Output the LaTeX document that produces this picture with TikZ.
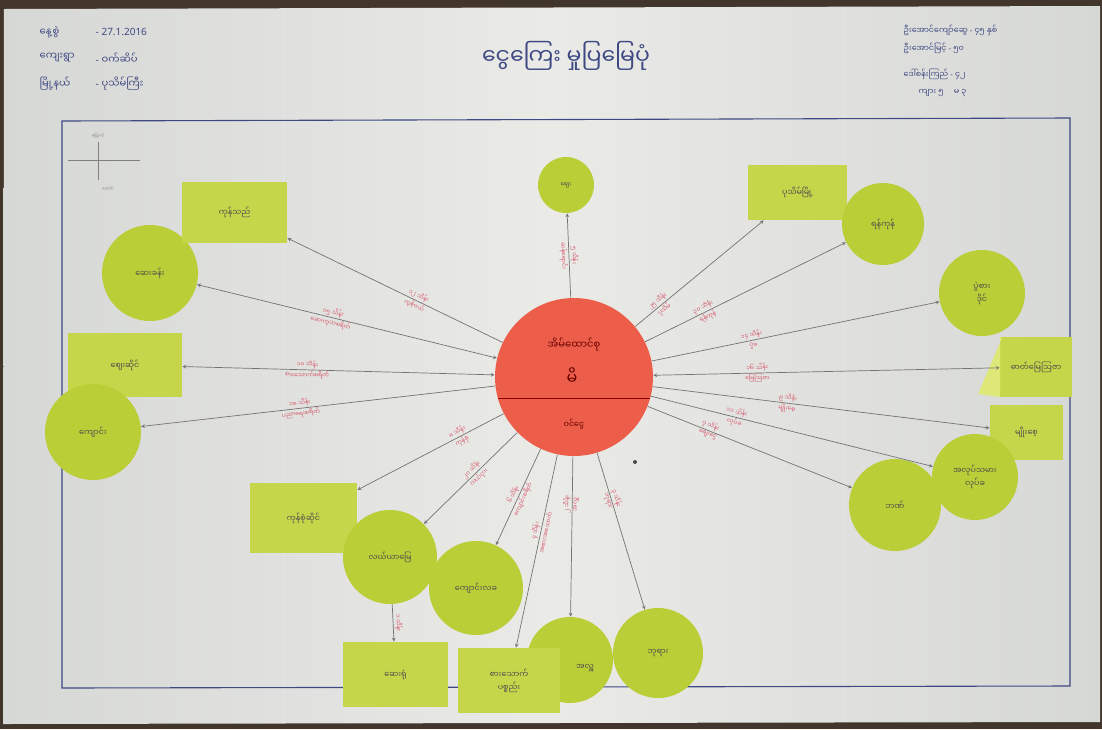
\documentclass[tikz,border=0pt]{standalone}
\usepackage{fontspec}
\usepackage{tikz}
\usetikzlibrary{shapes}
\usetikzlibrary{arrows}
\setmainfont{Noto Sans}
\newfontfamily\mmfont[Script=Myanmar]{Noto Sans Myanmar UI}
\newcommand{\mmdash}{{\rmfamily -}}
\definecolor{desk}{RGB}{66,54,44}
\definecolor{paperdark}{RGB}{214,216,213}
\definecolor{paperlight}{RGB}{234,234,231}
\definecolor{notegreen}{RGB}{198,214,74}
\definecolor{flapgreen}{RGB}{222,232,120}
\definecolor{discgreen}{RGB}{186,206,56}
\definecolor{hubred}{RGB}{236,94,74}
\definecolor{bluepen}{RGB}{62,72,130}
\definecolor{redpen}{RGB}{214,84,104}
\tikzstyle{slip}=[rectangle,fill=notegreen,inner sep=0mm,align=center,text=black!70,font=\mmfont\fontsize{8}{13}\selectfont]
\tikzstyle{disk}=[circle,fill=discgreen,inner sep=0mm,align=center,text=black!70,font=\mmfont\fontsize{8}{13}\selectfont]
\tikzstyle{flow}=[->,>=stealth,draw=black!55,line width=0.7]
\tikzstyle{both}=[<->,>=stealth,draw=black!55,line width=0.7]
\tikzstyle{amount}=[sloped,inner sep=1pt,text=redpen,font=\mmfont\fontsize{6}{8}\selectfont]
\tikzstyle{header}=[anchor=west,text=bluepen,font=\mmfont\fontsize{10}{12}\selectfont]
\tikzset{every picture/.style={
    line width=0.8
  }
}

\begin{document}
\begin{tikzpicture}[x=1pt,y=-1pt]
      \useasboundingbox (0,0) rectangle (1102,729);
      % photo and paper
      \fill[desk] (0,0) rectangle (1102,729);
      \shade[left color=paperdark,right color=paperdark,middle color=paperlight]
        (4,9) -- (1100,6) -- (1100,722) -- (3,724) -- cycle;
      \draw[black!10,line width=0.6] (283,9) -- (283,722);
      \draw[black!10,line width=0.6] (843,7) -- (843,722);
      \draw[bluepen,line width=1.1] (62,121) -- (1070,118) -- (1070,686) -- (62,688) -- cycle;
      % headings
      \node[header] at (36,32) (dlab) {နေ့စွဲ};
      \node[header,font=\fontsize{10}{12}\selectfont] at (92,32) (dval) {- 27.1.2016};
      \node[header] at (36,58) (vlab) {ကျေးရွာ};
      \node[header] at (92,58) (vval) {\mmdash{} ဝက်ဆိပ်};
      \node[header] at (36,84) (tlab) {မြို့နယ်};
      \node[header] at (92,84) (tval) {\mmdash{} ပုသိမ်ကြီး};
      \node[text=bluepen,font=\mmfont\fontsize{22}{26}\selectfont] at (566,56) (title) {ငွေကြေး မှုပြမြေပုံ};
      \node[header,font=\mmfont\fontsize{8}{9}\selectfont] at (900,30) (p1) {ဦးအောင်ကျော်ဆွေ \mmdash{} ၄၅ နှစ်};
      \node[header,font=\mmfont\fontsize{8}{9}\selectfont] at (900,48) (p2) {ဦးအောင်မြင့် \mmdash{} ၅၀};
      \node[header,font=\mmfont\fontsize{8}{9}\selectfont] at (900,74) (p3) {ဒေါ်စန်းကြည် \mmdash{} ၄၂};
      \node[header,font=\mmfont\fontsize{8}{9}\selectfont] at (915,93) (p4) {ကျား ၅ \quad မ ၃};
      % compass
      \draw[black!50,line width=0.5] (98,142) -- (98,180);
      \draw[black!50,line width=0.5] (68,160) -- (140,160);
      \node[text=black!50,font=\mmfont\fontsize{4}{5}\selectfont] at (98,136) (north) {မြောက်};
      \node[text=black!50,font=\mmfont\fontsize{4}{5}\selectfont] at (108,188) (south) {တောင်};
      % household
      \node[circle,fill=hubred,minimum size=158pt,inner sep=0mm] at (574,377) (hub) {};
      \draw[red!55!black,line width=0.7] ([shift={(-76,21)}]hub.center) -- ([shift={(76,21)}]hub.center);
      \node[text=red!40!black,font=\mmfont\fontsize{10}{12}\selectfont] at (574,345) (hubtop) {အိမ်ထောင်စု};
      \node[text=red!40!black,font=\mmfont\fontsize{16}{18}\selectfont] at (572,376) (hubmid) {မိ};
      \node[text=red!40!black,font=\mmfont\fontsize{8}{10}\selectfont] at (574,424) (hublow) {ဝင်ငွေ};
      % places, left
      \node[disk,minimum size=96pt] at (150,273) (c1) {ဆေးခန်း};
      \node[slip,minimum width=105pt,minimum height=61pt] at (234.5,212.5) (r1) {ကုန်သည်};
      \node[slip,minimum width=114pt,minimum height=64pt] at (125,365) (r2) {ဈေးဆိုင်};
      \node[disk,minimum size=96pt] at (93,432) (c2) {ကျောင်း};
      \node[slip,minimum width=107pt,minimum height=70pt] at (303.5,518) (r3) {ကုန်စုံဆိုင်};
      \node[disk,minimum size=94pt] at (390,557) (c3) {လယ်ယာမြေ};
      \node[disk,minimum size=94pt] at (476,588) (c4) {ကျောင်းလခ};
      \node[slip,minimum width=105pt,minimum height=65pt] at (395.5,674.5) (r4) {ဆေးရုံ};
      \node[disk,minimum size=86pt] at (570,660) (c5) {};
      \node[slip,minimum width=102pt,minimum height=65pt] at (509,680.5) (r5) {စားသောက်\\ပစ္စည်း};
      \node[text=black!70,font=\mmfont\fontsize{8}{10}\selectfont] at (585,668) (c5txt) {အလှူ};
      \node[disk,minimum size=90pt] at (658,653) (c6) {ဘုရား};
      % places, top and right
      \node[disk,minimum size=56pt,font=\mmfont\fontsize{6}{7}\selectfont] at (566,185) (t1) {ဈေး};
      \node[slip,minimum width=99pt,minimum height=55pt] at (797.5,192.5) (r6) {ပုသိမ်မြို့};
      \node[disk,minimum size=82pt] at (883,224) (c7) {ရန်ကုန်};
      \node[disk,minimum size=86pt] at (982,293) (c8) {ပွဲစား\\ဒိုင်};
      \node[slip,minimum width=72pt,minimum height=60pt] at (1036,367) (r7) {ဓာတ်မြေဩဇာ};
      \fill[flapgreen] (1002,338) -- (978,394) -- (1000,397) -- (1000,337) -- cycle;
      \node[slip,minimum width=73pt,minimum height=55pt] at (1026.5,432.5) (r8) {မျိုးစေ့};
      \node[disk,minimum size=86pt] at (975,477) (c9) {အလုပ်သမား\\လုပ်ခ};
      \node[disk,minimum size=92pt] at (895,505) (c10) {ဘဏ်};
      % flows
      \draw[flow] (hub) -- (t1) node[amount,pos=0.5,above] {၅ သိန်း} node[amount,pos=0.5,below] {ဆန်ရောင်း};
      \draw[flow] (hub) -- (r1) node[amount,pos=0.4,above] {၁၂ သိန်း} node[amount,pos=0.4,below] {ကုန်ဝယ်};
      \draw[both] (hub) -- (c1) node[amount,pos=0.55,above] {၁၅ သိန်း} node[amount,pos=0.55,below] {ဆေးကုသစရိတ်};
      \draw[both] (hub) -- (r2) node[amount,pos=0.6,above] {၁၀ သိန်း} node[amount,pos=0.6,below] {စားသောက်စရိတ်};
      \draw[flow] (hub) -- (c2) node[amount,pos=0.55,above] {၁၈ သိန်း} node[amount,pos=0.55,below] {ပညာရေးစရိတ်};
      \draw[flow] (hub) -- (r3) node[amount,pos=0.3,above] {၈ သိန်း} node[amount,pos=0.3,below] {ကုန်စုံ};
      \draw[flow] (hub) -- (c3) node[amount,pos=0.45,above] {၂၀ သိန်း} node[amount,pos=0.45,below] {လယ်ငှား};
      \draw[flow] (hub) -- (c4) node[amount,pos=0.5,above] {၆ သိန်း} node[amount,pos=0.5,below] {ကျောင်းစရိတ်};
      \draw[flow] (hub) -- (r5) node[amount,pos=0.4,above] {၄ သိန်း} node[amount,pos=0.4,below] {အစားအသောက်};
      \draw[flow] (hub) -- (c5) node[amount,pos=0.3,above] {၂ သိန်း} node[amount,pos=0.3,below] {အလှူ};
      \draw[flow] (hub) -- (c6) node[amount,pos=0.3,above] {၃ သိန်း} node[amount,pos=0.3,below] {ဘုရား};
      \draw[flow] (hub) -- (r6) node[amount,pos=0.2,above] {၂၅ သိန်း} node[amount,pos=0.2,below] {ပုသိမ်};
      \draw[flow] (hub) -- (c7) node[amount,pos=0.3,above] {၃၀ သိန်း} node[amount,pos=0.3,below] {ရန်ကုန်};
      \draw[flow] (hub) -- (c8) node[amount,pos=0.35,above] {၁၄ သိန်း} node[amount,pos=0.35,below] {ပွဲခ};
      \draw[both] (hub) -- (r7) node[amount,pos=0.3,above] {၁၆ သိန်း} node[amount,pos=0.3,below] {မြေဩဇာ};
      \draw[flow] (hub) -- (r8) node[amount,pos=0.4,above] {၉ သိန်း} node[amount,pos=0.4,below] {မျိုးစေ့};
      \draw[flow] (hub) -- (c9) node[amount,pos=0.3,above] {၁၁ သိန်း} node[amount,pos=0.3,below] {လုပ်ခ};
      \draw[flow] (hub) -- (c10) node[amount,pos=0.3,above] {၇ သိန်း} node[amount,pos=0.3,below] {ချေးငွေ};
      \draw[flow] (c3) -- (r4) node[amount,pos=0.5,above] {၁ သိန်း};
      % stray mark
      \fill[black!70] (635,462) circle (2pt);
    \end{tikzpicture}
\end{document}
